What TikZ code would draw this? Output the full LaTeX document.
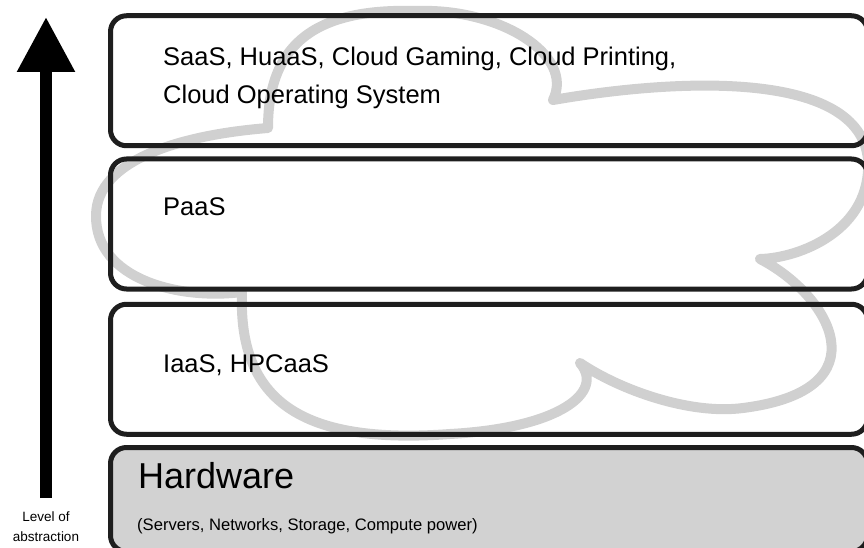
\documentclass[tikz,border=0pt]{standalone}
\usepackage{fontspec}
\setmainfont{Liberation Sans}
\usetikzlibrary{arrows.meta}
\definecolor{cloudgray}{HTML}{D0D0D0}
\definecolor{hwgray}{HTML}{D2D2D2}
\definecolor{edgeblack}{HTML}{1E1E1E}
\tikzset{
  layer/.style={draw=edgeblack, line width=5pt, rounded corners=16pt,
    minimum width=757pt, minimum height=130pt, inner sep=0pt},
  cloud/.style={draw=cloudgray, line width=10pt, line join=round},
  lbl/.style={inner sep=0pt, anchor=base west, font=\fontsize{25.5}{38}\selectfont}
}
\begin{document}
\begin{tikzpicture}[x=1pt,y=-1pt]
  \useasboundingbox (0,0) rectangle (864,548);

  % cloud outline, drawn below the layers
  \coordinate (k1) at (268,128);
  \coordinate (k2) at (553,100);
  \coordinate (k3) at (760,259);
  \coordinate (k4) at (580,363);
  \coordinate (k5) at (242,292);
  \draw[cloud] (k1) .. controls (268,40) and (320,8) .. (417,11)
      .. controls (500,8) and (575,55) .. (k2)
      .. controls (680,78) and (860,70) .. (868,160)
      .. controls (872,230) and (800,258) .. (k3)
      .. controls (830,295) and (885,390) .. (743,408)
      .. controls (690,415) and (620,390) .. (k4)
      .. controls (605,392) and (560,428) .. (450,434)
      .. controls (300,445) and (238,400) .. (k5)
      .. controls (180,300) and (95,280) .. (96,215)
      .. controls (97,160) and (180,135) .. cycle;

  % layers
  \node[layer] (saas) at (489,80.75) {};
  \node[layer] (paas) at (489,224) {};
  \node[layer] (iaas) at (489,369.25) {};
  \node[layer, fill=hwgray, minimum height=104pt] (hw) at (489,499.5) {};

  % labels
  \node[lbl, anchor=north west, align=left] (saastext) at (163,46.5)
    {SaaS, HuaaS, Cloud Gaming, Cloud Printing,\\Cloud Operating System};
  \node[lbl] (paastext) at (163,215) {PaaS};
  \node[lbl] (iaastext) at (163,372) {IaaS, HPCaaS};
  \node[lbl, font=\fontsize{36}{42}\selectfont] (hwtext) at (138,488) {Hardware};
  \node[lbl, font=\fontsize{16.6}{20}\selectfont] (hwsub) at (137,530)
    {(Servers, Networks, Storage, Compute power)};

  % abstraction arrow
  \coordinate (arrbase) at (46,498);
  \coordinate (arrtip) at (46,17);
  \draw[-{Triangle[width=55pt,length=55pt]}, line width=12pt] (arrbase) -- (arrtip);
  \node[align=center, inner sep=0pt, font=\fontsize{13.5}{20}\selectfont] (axislbl) at (46,527)
    {Level of\\abstraction};

\end{tikzpicture}
\end{document}
